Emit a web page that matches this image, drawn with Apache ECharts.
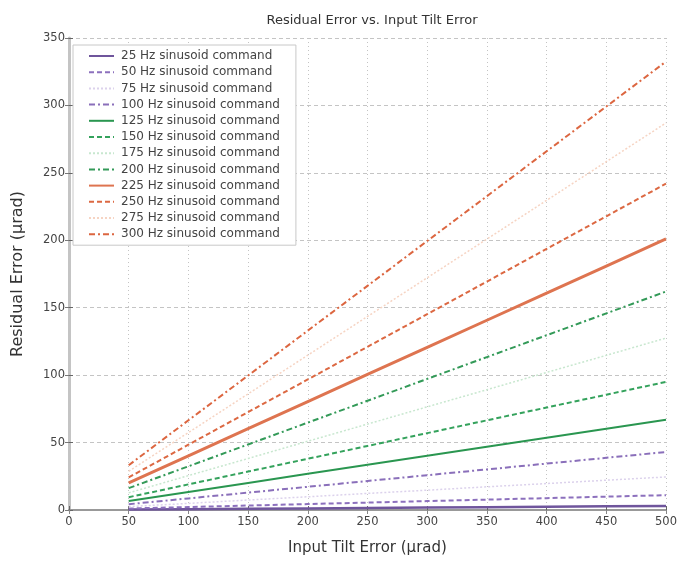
<!DOCTYPE html>
<html>
<head>
<meta charset="utf-8">
<script src="https://cdn.jsdelivr.net/npm/echarts@6/dist/echarts.min.js"></script>
<style>
  html, body { margin: 0; padding: 0; background: #fff; }
  #chart { width: 691px; height: 561px; }
</style>
</head>
<body>
<div id="chart"></div>
<script>
// input tilt error (urad)
const tiltX = [50, 100, 150, 200, 250, 300, 350, 400, 450, 500]

const hz25 = [0.3, 0.6, 0.9, 1.2, 1.5, 1.8, 2.1, 2.4, 2.7, 3]
const hz50 = [1.1, 2.2, 3.3, 4.4, 5.5, 6.6, 7.7, 8.8, 9.9, 11]
const hz75 = [2.5, 4.9, 7.4, 9.8, 12.3, 14.7, 17.2, 19.6, 22.1, 24.5]
const hz100 = [4.3, 8.6, 12.9, 17.2, 21.5, 25.8, 30.1, 34.4, 38.7, 43]
const hz125 = [6.7, 13.4, 20.1, 26.8, 33.5, 40.2, 46.9, 53.6, 60.3, 67]
const hz150 = [9.5, 19, 28.5, 38, 47.5, 57, 66.5, 76, 85.5, 95]
const hz175 = [12.7, 25.5, 38.2, 51, 63.7, 76.5, 89.2, 102, 114.7, 127.5]
const hz200 = [16.2, 32.4, 48.6, 64.8, 81, 97.2, 113.4, 129.6, 145.8, 162]
const hz225 = [20.1, 40.2, 60.3, 80.4, 100.5, 120.6, 140.7, 160.8, 180.9, 201]
const hz250 = [24.2, 48.4, 72.6, 96.8, 121, 145.2, 169.4, 193.6, 217.8, 242]
const hz275 = [28.7, 57.4, 86.1, 114.8, 143.5, 172.2, 200.9, 229.6, 258.3, 287]
const hz300 = [33.2, 66.5, 99.7, 133, 166.2, 199.5, 232.7, 266, 299.2, 332.5]

const seriesDefs = [
  { name: '25 Hz sinusoid command', data: hz25, color: '#6f559c', type: 'solid', width: 2.5 },
  { name: '50 Hz sinusoid command', data: hz50, color: '#8c70bd', type: [5, 3], width: 2 },
  { name: '75 Hz sinusoid command', data: hz75, color: '#dcd2ec', type: [2, 2], width: 1.5 },
  { name: '100 Hz sinusoid command', data: hz100, color: '#8a6fba', type: [6, 3, 2, 3], width: 2 },
  { name: '125 Hz sinusoid command', data: hz125, color: '#2a9650', type: 'solid', width: 2 },
  { name: '150 Hz sinusoid command', data: hz150, color: '#34a25c', type: [5, 3], width: 2 },
  { name: '175 Hz sinusoid command', data: hz175, color: '#c8e7cf', type: [2, 2], width: 1.5 },
  { name: '200 Hz sinusoid command', data: hz200, color: '#339a58', type: [6, 3, 2, 3], width: 2 },
  { name: '225 Hz sinusoid command', data: hz225, color: '#de7450', type: 'solid', width: 3 },
  { name: '250 Hz sinusoid command', data: hz250, color: '#dc6842', type: [5, 3], width: 2 },
  { name: '275 Hz sinusoid command', data: hz275, color: '#f6d4c3', type: [2, 2], width: 1.5 },
  { name: '300 Hz sinusoid command', data: hz300, color: '#dc6640', type: [6, 3, 2, 3], width: 2 }
]

const chart = echarts.init(document.getElementById('chart'))

const textStyle = { fontFamily: 'DejaVu Sans, sans-serif', color: '#333' }

chart.setOption({
  animation: false,
  title: {
    text: 'Residual Error vs. Input Tilt Error',
    left: 367,
    top: 9,
    textAlign: 'center',
    textStyle: Object.assign({ fontSize: 13, fontWeight: 'normal' }, textStyle)
  },
  legend: {
    orient: 'vertical',
    left: 73,
    top: 45,
    itemGap: 4.2,
    itemWidth: 25,
    itemHeight: 11,
    padding: [5, 16, 5, 15],
    borderColor: '#c8c8c8',
    borderWidth: 1,
    backgroundColor: '#fff',
    itemStyle: { opacity: 0 },
    textStyle: Object.assign({ fontSize: 12, padding: [0, 0, 0, 2] }, textStyle, { color: '#444' }),
    data: seriesDefs.map(s => s.name)
  },
  grid: {
    left: 69,
    right: 25,
    top: 38,
    bottom: 51
  },
  xAxis: [
    {
      type: 'value',
      min: 0,
      max: 500,
      interval: 50,
      name: 'Input Tilt Error (µrad)',
      nameLocation: 'middle',
      nameGap: 31,
      nameTextStyle: Object.assign({ fontSize: 15 }, textStyle),
      axisLine: { lineStyle: { color: '#888', width: 1.5 } },
      axisTick: { inside: true, length: 4, lineStyle: { color: '#666' } },
      axisLabel: Object.assign({ fontSize: 11.5, margin: 6 }, textStyle, { color: '#444' }),
      splitLine: { show: true, lineStyle: { color: '#c4c4c4', type: [1, 3] } }
    },
    {
      type: 'value',
      position: 'top',
      min: 0,
      max: 500,
      interval: 50,
      axisLine: { show: true, lineStyle: { color: '#999', width: 2 } },
      axisTick: { inside: true, length: 4, lineStyle: { color: '#888' } },
      axisLabel: { show: false },
      splitLine: { show: false }
    }
  ],
  yAxis: [
    {
      type: 'value',
      min: 0,
      max: 350,
      interval: 50,
      name: 'Residual Error (µrad)',
      nameLocation: 'middle',
      nameGap: 43,
      nameTextStyle: Object.assign({ fontSize: 16 }, textStyle),
      axisLine: { show: true, lineStyle: { color: '#888', width: 1.5 } },
      axisTick: { show: true, inside: true, length: 4, lineStyle: { color: '#666' } },
      axisLabel: Object.assign({ fontSize: 11.5, margin: 4 }, textStyle, { color: '#444' }),
      splitLine: { show: true, lineStyle: { color: '#c4c4c4', type: [4, 3] } }
    },
    {
      type: 'value',
      position: 'right',
      min: 0,
      max: 350,
      interval: 50,
      axisLine: { show: true, lineStyle: { color: '#c4c4c4', width: 3 } },
      axisTick: { show: true, inside: true, length: 4, lineStyle: { color: '#777' } },
      axisLabel: { show: false },
      splitLine: { show: false }
    }
  ],
  series: seriesDefs.map(s => ({
    name: s.name,
    type: 'line',
    symbol: 'none',
    color: s.color,
    lineStyle: { color: s.color, width: s.width, type: s.type },
    data: tiltX.map((x, i) => [x, s.data[i]])
  }))
})
</script>
</body>
</html>
